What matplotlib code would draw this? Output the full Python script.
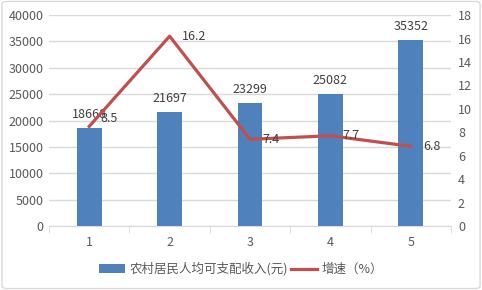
import matplotlib
matplotlib.use("Agg")
import matplotlib.pyplot as plt
from matplotlib.patches import FancyBboxPatch

plt.rcParams['font.family'] = ['Noto Sans CJK SC', 'DejaVu Sans']

categories = ["1", "2", "3", "4", "5"]
income = [18668, 21697, 23299, 25082, 35352]
growth = [8.5, 16.2, 7.4, 7.7, 6.8]
bar_name = "农村居民人均可支配收入(元)"
line_name = "增速（%）"

txt = "#595959"
fig = plt.figure(figsize=(4.82, 2.9), dpi=100)
border = FancyBboxPatch((0.004, 0.005), 0.992, 0.99, boxstyle="round,pad=0,rounding_size=0.01",
                        transform=fig.transFigure, fc="none", ec="#D9D9D9", lw=1, zorder=10)
fig.patches.append(border)
ax = fig.add_axes([0.1017, 0.2207, 0.834, 0.7273])
x = list(range(len(categories)))
bars = ax.bar(x, income, width=0.31, color="#4F81BD", zorder=2, label=bar_name)
ax.set_xlim(-0.5, 4.5)
ax.set_ylim(0, 40000)
ax.set_yticks(range(0, 40001, 5000))
ax.grid(axis='y', color="#D9D9D9", lw=1, zorder=0)
ax.set_axisbelow(True)
for s in ['top', 'left', 'right']:
    ax.spines[s].set_visible(False)
ax.spines['bottom'].set_color("#D9D9D9")
ax.set_xticks(x)
ax.set_xticklabels(categories)
ax.tick_params(axis='x', length=0, colors=txt, labelsize=9, pad=7)
ax.set_xticks([i - 0.5 for i in range(6)], minor=True)
ax.tick_params(axis='x', which='minor', length=5, color="#D9D9D9")
ax.tick_params(axis='y', length=0, colors=txt, labelsize=9, pad=4)
for xi, v in zip(x, income):
    ax.annotate(str(v), (xi, v), xytext=(0, 5), textcoords='offset points',
                ha='center', va='bottom', fontsize=9, color="#404040")

ax2 = ax.twinx()
ax2.set_ylim(0, 18)
ax2.set_yticks(range(0, 19, 2))
for s in ['top', 'left', 'right', 'bottom']:
    ax2.spines[s].set_visible(False)
ax2.tick_params(axis='y', length=0, colors=txt, labelsize=9, pad=5)
line, = ax2.plot(x, growth, color="#C0504D", lw=2.3, zorder=3, label=line_name)
offsets = [(8, 6), (9, 0), (9, 0), (9, 0), (9, 0)]
for xi, v, off in zip(x, growth, offsets):
    ax2.annotate(str(v), (xi, v), xytext=off, textcoords='offset points',
                 ha='left', va='center', fontsize=9, color="#404040")

fig.legend(handles=[bars, line], labels=[bar_name, line_name], loc='center',
           bbox_to_anchor=(0.5, 0.072), ncol=2, frameon=False, fontsize=9,
           labelcolor=txt, handlelength=2.1, handletextpad=0.4, columnspacing=0.2)
fig.savefig("out.png", dpi=100)
